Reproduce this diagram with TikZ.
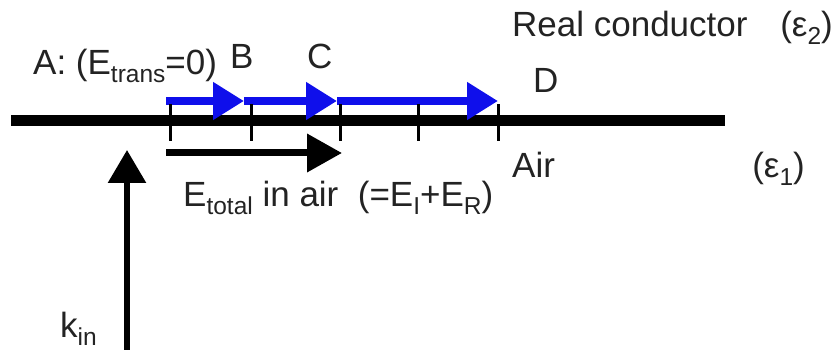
\documentclass[tikz,border=0pt]{standalone}
\usepackage{fontspec}
\setmainfont{Liberation Sans}
\usetikzlibrary{arrows.meta}
\definecolor{eblue}{RGB}{15,15,235}
\definecolor{txt}{RGB}{35,35,35}
\newcommand{\sbs}[1]{\raisebox{-8pt}{\fontsize{24.5}{26}\selectfont #1}}
\begin{document}
\begin{tikzpicture}[x=1pt,y=-1pt,
  lbl/.style={anchor=base west,inner sep=0pt,text=txt,font=\fontsize{35}{42}\selectfont},
  iface/.style={line width=11pt},
  tickmark/.style={line width=3pt},
  bluefield/.style={line width=8pt,draw=eblue,-{Triangle[length=31pt,width=36pt,fill=eblue]}},
  airfield/.style={line width=7pt,-{Triangle[length=35pt,width=37pt]}},
  wavevec/.style={line width=6pt,-{Triangle[length=33pt,width=37pt]}}
]
\useasboundingbox (0,0) rectangle (836,350);
% interface
\coordinate (L) at (11,121);
\coordinate (R) at (725,121);
\draw[iface] (L) -- (R);
% blue field arrows
\coordinate (b0) at (166,101);
\coordinate (b1) at (244,101);
\coordinate (b2) at (337,101);
\coordinate (b3) at (498,101);
\draw[bluefield] (b0) -- (b1);
\draw[bluefield] (b1) -- (b2);
\draw[bluefield] (b2) -- (b3);
% ticks
\foreach \x/\n in {170/t1,251/t2,340/t3,418/t4,498/t5}{
  \coordinate (\n a) at (\x,104);
  \coordinate (\n b) at (\x,141);
  \draw[tickmark] (\n a) -- (\n b);
}
% total field in air
\coordinate (e0) at (166,153);
\coordinate (e1) at (342,153);
\draw[airfield] (e0) -- (e1);
% incident wave vector
\coordinate (k0) at (127,352);
\coordinate (k1) at (127,150);
\draw[wavevec] (k0) -- (k1);
% labels
\node[lbl] (A) at (33,75) {A: (E\sbs{trans}=0)};
\node[lbl] (B) at (230,69) {B};
\node[lbl] (C) at (307,69) {C};
\node[lbl] (D) at (533,93) {D};
\node[lbl] (rc) at (512,37) {Real conductor};
\node[lbl,anchor=base east] (eps2) at (833,37) {(ε\sbs{2})};
\node[lbl] (air) at (512,178) {Air};
\node[lbl,anchor=base east] (eps1) at (805,178) {(ε\sbs{1})};
\node[lbl] (Et) at (183,207) {E\sbs{total} in air\ \ (=E\sbs{I}+E\sbs{R})};
\node[lbl] (k) at (60,337) {k\sbs{in}};
\end{tikzpicture}
\end{document}
